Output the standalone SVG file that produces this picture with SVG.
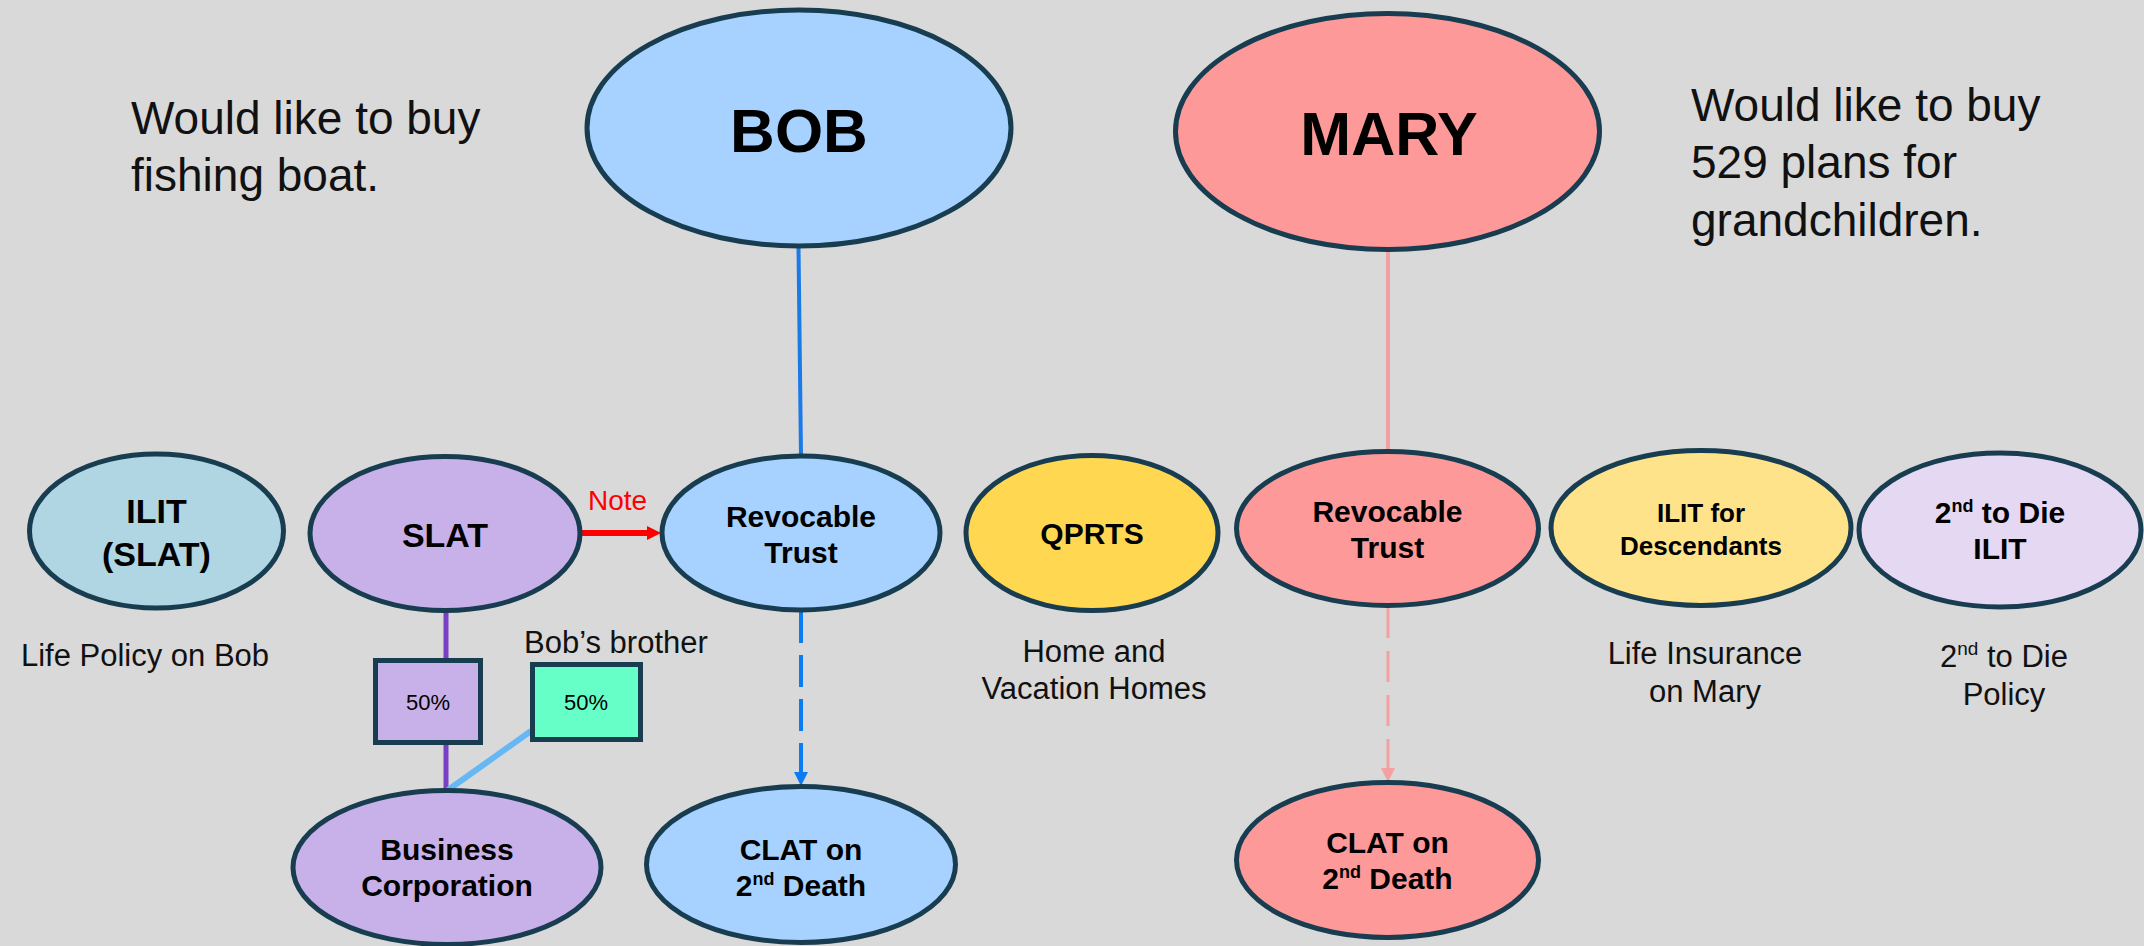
<svg xmlns="http://www.w3.org/2000/svg" width="2144" height="946" viewBox="0 0 2144 946">
  <defs>
    <style>
      .node { stroke: #183d50; stroke-width: 5; }
      .lbl { font-family: "Liberation Sans", Arial, sans-serif; font-weight: bold; fill: #000; text-anchor: middle; }
      .note { font-family: "Liberation Sans", Arial, sans-serif; fill: #111; }
      .mid { text-anchor: middle; }
      .blue { fill: #a7d2ff; }
      .pink { fill: #fe9999; }
      .lilac { fill: #c8b0e8; }
    </style>
    <marker id="headBlue" viewBox="0 0 10 10" refX="0" refY="5" markerUnits="userSpaceOnUse" markerWidth="14" markerHeight="16" orient="auto">
      <path d="M0,0 L10,5 L0,10 z" fill="#0a7bf2"/>
    </marker>
    <marker id="headPink" viewBox="0 0 10 10" refX="0" refY="5" markerUnits="userSpaceOnUse" markerWidth="14" markerHeight="16" orient="auto">
      <path d="M0,0 L10,5 L0,10 z" fill="#f4a0a0"/>
    </marker>
    <marker id="headRed" viewBox="0 0 10 10" refX="0" refY="5" markerUnits="userSpaceOnUse" markerWidth="14" markerHeight="16" orient="auto">
      <path d="M0,0 L10,5 L0,10 z" fill="#ff0000"/>
    </marker>
  </defs>

  <rect width="2144" height="946" fill="#d9d9d9"/>

  <!-- connectors -->
  <g id="connectors" fill="none">
    <line x1="798.5" y1="247" x2="801" y2="456" stroke="#1a7ae8" stroke-width="4"/>
    <line x1="1388" y1="250" x2="1388" y2="452" stroke="#f4a0a0" stroke-width="4"/>
    <line x1="582" y1="533" x2="647" y2="533" stroke="#ff0000" stroke-width="6" marker-end="url(#headRed)"/>
    <line x1="801" y1="611" x2="801" y2="772" stroke="#0a7bf2" stroke-width="4" stroke-dasharray="32 12" marker-end="url(#headBlue)"/>
    <line x1="1388" y1="607" x2="1388" y2="768" stroke="#f4a0a0" stroke-width="3" stroke-dasharray="31 13" marker-end="url(#headPink)"/>
    <line x1="446" y1="611" x2="446" y2="659" stroke="#7b3fc6" stroke-width="5"/>
    <line x1="446" y1="745" x2="446" y2="790" stroke="#7b3fc6" stroke-width="5"/>
    <line x1="531" y1="731" x2="448" y2="790" stroke="#66b8f4" stroke-width="6"/>
  </g>

  <!-- side notes -->
  <g id="bob-goal">
    <text class="note" x="131" y="134" font-size="46">Would like to buy</text>
    <text class="note" x="131" y="191" font-size="46">fishing boat.</text>
  </g>
  <g id="mary-goal">
    <text class="note" x="1691" y="121" font-size="46">Would like to buy</text>
    <text class="note" x="1691" y="178" font-size="46">529 plans for</text>
    <text class="note" x="1691" y="236" font-size="46">grandchildren.</text>
  </g>

  <!-- people -->
  <g id="bob">
    <ellipse class="node blue" cx="799" cy="128" rx="212" ry="118"/>
    <text class="lbl" x="799" y="152" font-size="62">BOB</text>
  </g>
  <g id="mary">
    <ellipse class="node pink" cx="1387.5" cy="131.5" rx="212" ry="118"/>
    <text class="lbl" x="1389" y="155" font-size="61">MARY</text>
  </g>

  <!-- trusts -->
  <g id="ilit-slat">
    <ellipse class="node" fill="#b0d5e3" cx="156.5" cy="531" rx="127" ry="77"/>
    <text class="lbl" x="156.5" y="523" font-size="34">ILIT</text>
    <text class="lbl" x="156.5" y="566" font-size="34">(SLAT)</text>
    <text class="note mid" x="145" y="666" font-size="31">Life Policy on Bob</text>
  </g>
  <g id="slat">
    <ellipse class="node lilac" cx="445" cy="533.5" rx="135" ry="77"/>
    <text class="lbl" x="445" y="546.5" font-size="34">SLAT</text>
  </g>
  <g id="note-label">
    <text x="588" y="510" font-family="Liberation Sans, Arial, sans-serif" font-size="28" fill="#ff0000">Note</text>
  </g>
  <g id="bob-revocable">
    <ellipse class="node blue" cx="801" cy="533" rx="139" ry="77"/>
    <text class="lbl" x="801" y="526.5" font-size="30">Revocable</text>
    <text class="lbl" x="801" y="562.5" font-size="30">Trust</text>
  </g>
  <g id="qprts">
    <ellipse class="node" fill="#ffd751" cx="1092" cy="533" rx="126" ry="77.5"/>
    <text class="lbl" x="1092" y="544" font-size="30">QPRTS</text>
    <text class="note mid" x="1094" y="662" font-size="31">Home and</text>
    <text class="note mid" x="1094" y="699" font-size="31">Vacation Homes</text>
  </g>
  <g id="mary-revocable">
    <ellipse class="node pink" cx="1387.5" cy="528.5" rx="151" ry="77"/>
    <text class="lbl" x="1387.5" y="521.5" font-size="30">Revocable</text>
    <text class="lbl" x="1387.5" y="557.5" font-size="30">Trust</text>
  </g>
  <g id="ilit-descendants">
    <ellipse class="node" fill="#ffe38b" cx="1701" cy="528" rx="150" ry="77.5"/>
    <text class="lbl" x="1701" y="521.5" font-size="26">ILIT for</text>
    <text class="lbl" x="1701" y="554.5" font-size="26">Descendants</text>
    <text class="note mid" x="1705" y="664" font-size="31">Life Insurance</text>
    <text class="note mid" x="1705" y="701.5" font-size="31">on Mary</text>
  </g>
  <g id="second-to-die">
    <ellipse class="node" fill="#e5d8f3" cx="2000" cy="530" rx="141" ry="77"/>
    <text class="lbl" x="2000" y="523" font-size="30">2<tspan font-size="18" dy="-11">nd</tspan><tspan dy="11"> to Die</tspan></text>
    <text class="lbl" x="2000" y="559" font-size="30">ILIT</text>
    <text class="note mid" x="2004" y="667" font-size="31">2<tspan font-size="19" dy="-12">nd</tspan><tspan dy="12"> to Die</tspan></text>
    <text class="note mid" x="2004" y="705" font-size="31">Policy</text>
  </g>

  <!-- ownership split -->
  <g id="share-slat">
    <rect class="node lilac" x="375.5" y="660.5" width="105" height="82"/>
    <text x="428" y="710" font-family="Liberation Sans, Arial, sans-serif" font-size="22" text-anchor="middle">50%</text>
  </g>
  <g id="share-brother">
    <rect class="node" fill="#66ffc8" x="532.5" y="664.5" width="108" height="75"/>
    <text x="586" y="710" font-family="Liberation Sans, Arial, sans-serif" font-size="22" text-anchor="middle">50%</text>
    <text class="note" x="524" y="653" font-size="31">Bob’s brother</text>
  </g>

  <!-- bottom row -->
  <g id="business-corp">
    <ellipse class="node lilac" cx="447" cy="867.5" rx="154" ry="77"/>
    <text class="lbl" x="447" y="860" font-size="30">Business</text>
    <text class="lbl" x="447" y="896" font-size="30">Corporation</text>
  </g>
  <g id="bob-clat">
    <ellipse class="node blue" cx="801" cy="864.5" rx="154.5" ry="78"/>
    <text class="lbl" x="801" y="860" font-size="30">CLAT on</text>
    <text class="lbl" x="801" y="896" font-size="30">2<tspan font-size="18" dy="-11">nd</tspan><tspan dy="11"> Death</tspan></text>
  </g>
  <g id="mary-clat">
    <ellipse class="node pink" cx="1387.5" cy="860" rx="151" ry="77.5"/>
    <text class="lbl" x="1387.5" y="853" font-size="30">CLAT on</text>
    <text class="lbl" x="1387.5" y="889" font-size="30">2<tspan font-size="18" dy="-11">nd</tspan><tspan dy="11"> Death</tspan></text>
  </g>
</svg>
